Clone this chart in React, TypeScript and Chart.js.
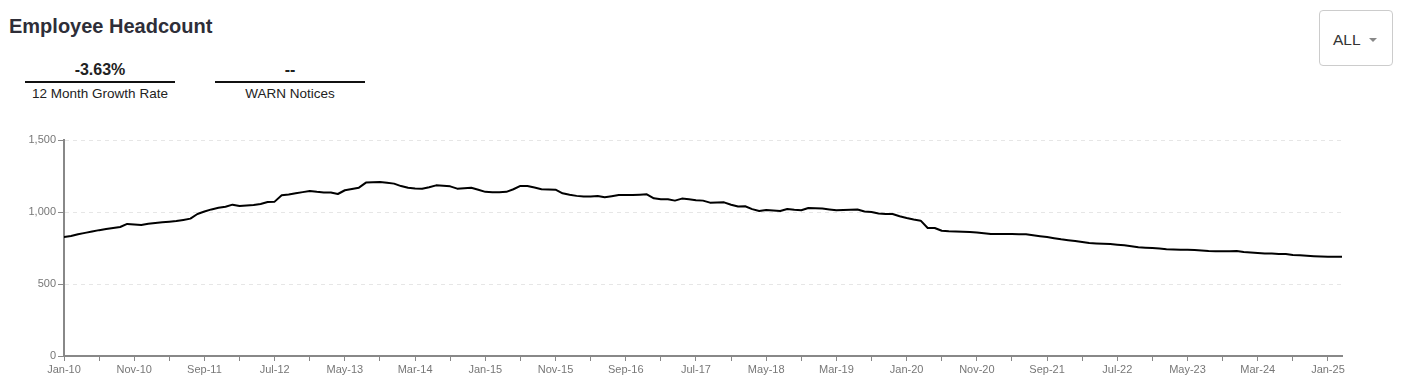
import React, { useEffect, useRef } from "react";
import { Chart, registerables } from "chart.js";

Chart.register(...registerables);

// Monthly employee headcount, Jan-2010 .. Mar-2025
const headcount2010 = [826, 834, 846, 855, 864, 874, 882, 889, 896, 917, 914, 910];
const headcount2011 = [918, 924, 928, 933, 937, 945, 954, 986, 1003, 1018, 1030, 1037];
const headcount2012 = [1051, 1042, 1045, 1049, 1056, 1069, 1072, 1116, 1122, 1130, 1138, 1146];
const headcount2013 = [1140, 1136, 1135, 1125, 1151, 1160, 1169, 1204, 1206, 1208, 1203, 1197];
const headcount2014 = [1180, 1169, 1163, 1162, 1172, 1185, 1182, 1178, 1162, 1165, 1169, 1155];
const headcount2015 = [1140, 1137, 1137, 1140, 1158, 1181, 1181, 1170, 1158, 1156, 1155, 1130];
const headcount2016 = [1120, 1112, 1107, 1108, 1111, 1102, 1110, 1118, 1118, 1118, 1120, 1123];
const headcount2017 = [1095, 1088, 1088, 1079, 1093, 1088, 1082, 1079, 1065, 1066, 1067, 1050];
const headcount2018 = [1038, 1040, 1020, 1007, 1014, 1010, 1007, 1021, 1015, 1012, 1028, 1026];
const headcount2019 = [1024, 1018, 1012, 1014, 1016, 1017, 1003, 1000, 990, 986, 986, 970];
const headcount2020 = [958, 948, 940, 889, 889, 870, 866, 864, 863, 861, 858, 852];
const headcount2021 = [847, 847, 847, 847, 846, 845, 838, 832, 826, 818, 810, 804];
const headcount2022 = [799, 791, 784, 781, 779, 778, 773, 769, 762, 755, 752, 750];
const headcount2023 = [746, 741, 739, 738, 737, 736, 733, 729, 727, 727, 728, 729];
const headcount2024 = [722, 719, 716, 712, 711, 709, 708, 702, 699, 696, 693, 691];
const headcount2025 = [690, 690, 690];

const headcount = [
  ...headcount2010, ...headcount2011, ...headcount2012, ...headcount2013,
  ...headcount2014, ...headcount2015, ...headcount2016, ...headcount2017,
  ...headcount2018, ...headcount2019, ...headcount2020, ...headcount2021,
  ...headcount2022, ...headcount2023, ...headcount2024, ...headcount2025,
];

// Labels shown every 10 months on the x axis
const xTickLabels = [
  "Jan-10", "Nov-10", "Sep-11", "Jul-12", "May-13", "Mar-14", "Jan-15",
  "Nov-15", "Sep-16", "Jul-17", "May-18", "Mar-19", "Jan-20", "Nov-20",
  "Sep-21", "Jul-22", "May-23", "Mar-24", "Jan-25",
];
const yTicks = [0, 500, 1000, 1500];

const stats = [
  { value: "-3.63%", label: "12 Month Growth Rate" },
  { value: "--", label: "WARN Notices" },
];

const FONT = '"Liberation Sans", Arial, Helvetica, sans-serif';

export default function App() {
  const canvasRef = useRef<HTMLCanvasElement | null>(null);

  useEffect(() => {
    const canvas = canvasRef.current;
    if (!canvas) return;
    const points = headcount.map((v, i) => ({ x: i, y: v }));
    const chart = new Chart(canvas, {
      type: "line",
      data: {
        datasets: [
          {
            data: points,
            borderColor: "#000000",
            borderWidth: 2,
            borderJoinStyle: "round",
            borderCapStyle: "round",
            pointRadius: 0,
            tension: 0,
            fill: false,
          },
        ],
      },
      options: {
        animation: false,
        responsive: false,
        layout: { padding: { top: 15, right: 61, left: 0, bottom: 0 } },
        plugins: { legend: { display: false }, tooltip: { enabled: false } },
        scales: {
          x: {
            type: "linear",
            min: 0,
            max: headcount.length - 1,
            afterBuildTicks: (scale: any) => {
              const t: any[] = [];
              for (let v = 0; v <= headcount.length - 1; v += 5) t.push({ value: v });
              scale.ticks = t;
            },
            afterFit: (scale: any) => {
              scale.height = 32;
            },
            ticks: {
              autoSkip: false,
              maxRotation: 0,
              padding: 2,
              color: "#777777",
              font: { family: FONT, size: 11 },
              callback: (value: any) => {
                const v = Number(value);
                return v % 10 === 0 ? xTickLabels[v / 10] ?? "" : "";
              },
            },
            grid: {
              drawOnChartArea: false,
              drawTicks: true,
              tickLength: 5,
              tickColor: "#888888",
              tickWidth: 1,
            },
            border: { color: "#888888", width: 2 },
          },
          y: {
            min: 0,
            max: 1500,
            afterBuildTicks: (scale: any) => {
              scale.ticks = yTicks.map((v) => ({ value: v }));
            },
            afterFit: (scale: any) => {
              scale.width = 64;
            },
            ticks: {
              padding: 2,
              color: "#777777",
              font: { family: FONT, size: 11 },
              callback: (value: any) => Number(value).toLocaleString("en-US"),
            },
            grid: {
              color: "#e6e6e6",
              lineWidth: 1,
              drawTicks: true,
              tickLength: 6,
              tickColor: "#888888",
            },
            border: { color: "#888888", width: 2, dash: [4, 4] },
          },
        },
      },
    });
    return () => chart.destroy();
  }, []);

  return (
    <div
      style={{
        position: "absolute",
        left: 0,
        top: 0,
        width: 1403,
        height: 388,
        overflow: "hidden",
        background: "#ffffff",
        fontFamily: FONT,
      }}
    >
      <div
        style={{
          position: "absolute",
          left: 9,
          top: 16,
          fontSize: 20,
          lineHeight: "20px",
          fontWeight: "bold",
          color: "#2e2e38",
          whiteSpace: "nowrap",
        }}
      >
        Employee Headcount
      </div>

      {stats.map((s, i) => (
        <div
          key={s.label}
          style={{ position: "absolute", left: 25 + i * 190, top: 0, width: 150 }}
        >
          <div
            style={{
              position: "absolute",
              left: 0,
              top: 62,
              width: 150,
              textAlign: "center",
              fontSize: 16,
              lineHeight: "16px",
              fontWeight: "bold",
              color: "#222222",
            }}
          >
            {s.value}
          </div>
          <div
            style={{
              position: "absolute",
              left: 0,
              top: 81,
              width: 150,
              height: 2,
              background: "#111111",
            }}
          />
          <div
            style={{
              position: "absolute",
              left: 0,
              top: 87,
              width: 150,
              textAlign: "center",
              fontSize: 13.5,
              lineHeight: "13.5px",
              color: "#222222",
              whiteSpace: "nowrap",
            }}
          >
            {s.label}
          </div>
        </div>
      ))}

      <div
        style={{
          position: "absolute",
          left: 1319,
          top: 10,
          width: 72,
          height: 54,
          border: "1px solid #cccccc",
          borderRadius: 4,
          boxSizing: "content-box",
        }}
      >
        <div
          style={{
            position: "absolute",
            left: 13,
            top: 21,
            fontSize: 15.5,
            lineHeight: "15.5px",
            color: "#333333",
          }}
        >
          ALL
        </div>
        <div
          style={{
            position: "absolute",
            left: 49,
            top: 27,
            width: 0,
            height: 0,
            borderLeft: "4.5px solid transparent",
            borderRight: "4.5px solid transparent",
            borderTop: "4px solid #888888",
          }}
        />
      </div>

      <canvas
        ref={canvasRef}
        width={1403}
        height={263}
        style={{ position: "absolute", left: 0, top: 125, width: 1403, height: 263 }}
      />
    </div>
  );
}
